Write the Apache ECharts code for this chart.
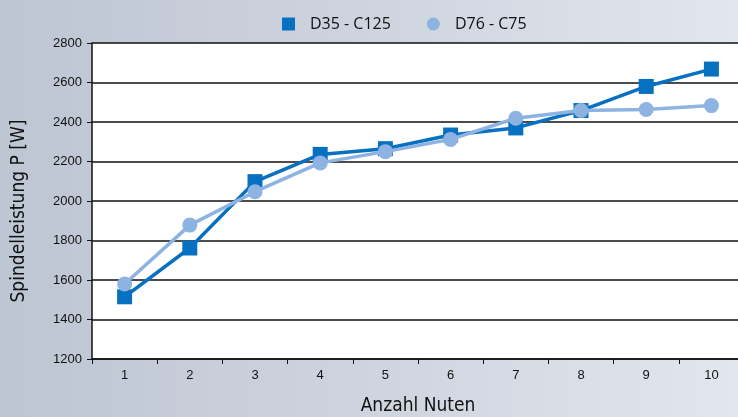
<!DOCTYPE html>
<html>
<head>
<meta charset="utf-8">
<script src="https://cdn.jsdelivr.net/npm/echarts@6/dist/echarts.min.js"></script>
<style>
  html, body { margin: 0; padding: 0; }
  #main { width: 738px; height: 417px; background: linear-gradient(90deg, #bec5d3 0%, #d0d6e0 55%, #e2e6ee 100%); }
</style>
</head>
<body>
<div id="main"></div>
<script>
let categories = ['1', '2', '3', '4', '5', '6', '7', '8', '9', '10'];
let seriesNames = ['D35 - C125', 'D76 - C75'];
let d35Values = [1515, 1762, 2098, 2236, 2265, 2334, 2370, 2458, 2580, 2668];
let d76Values = [1580, 1878, 2047, 2193, 2250, 2312, 2419, 2458, 2463, 2483];
let colors = ['#0870c0', '#8db3e2'];

const nameFont = { fontFamily: 'DejaVu Sans Condensed, sans-serif', fontWeight: 'normal', fontSize: 19, color: '#111' };

const option = {
    animation: false,
    color: colors,
    legend: {
        top: 11,
        left: 277,
        itemGap: 36,
        itemWidth: 13,
        itemHeight: 13,
        textStyle: { fontFamily: 'Open Sans', fontSize: 16, color: '#111', padding: [0, 0, 0, 10] },
        data: [
            { name: seriesNames[0], icon: 'rect' },
            { name: seriesNames[1], icon: 'circle' }
        ]
    },
    grid: {
        left: 92, top: 43, width: 652, height: 316,
        outerBoundsMode: 'none',
        show: true, backgroundColor: '#fff', borderWidth: 0
    },
    xAxis: {
        type: 'category',
        data: categories,
        boundaryGap: true,
        name: 'Anzahl Nuten',
        nameLocation: 'middle',
        nameGap: 38,
        nameTextStyle: nameFont,
        axisLine: { lineStyle: { color: '#111', width: 1.5 } },
        axisTick: { show: true, alignWithLabel: false, length: 5, lineStyle: { color: '#111' } },
        axisLabel: { fontFamily: 'Liberation Sans', fontSize: 13, color: '#111', margin: 10 }
    },
    yAxis: {
        type: 'value',
        min: 1200,
        max: 2800,
        interval: 200,
        name: 'Spindelleistung P [W]',
        nameLocation: 'middle',
        nameGap: 63,
        nameTextStyle: Object.assign({}, nameFont, { padding: [0, 20, 0, 0] }),
        axisLine: { show: true, lineStyle: { color: '#111', width: 1.5 } },
        axisTick: { show: true, length: 5, lineStyle: { color: '#111' } },
        axisLabel: { fontFamily: 'Liberation Sans', fontSize: 13, color: '#111', margin: 10, formatter: v => String(v) },
        splitLine: { lineStyle: { color: '#111', width: 1.5 } }
    },
    series: [
        {
            name: seriesNames[0],
            type: 'line',
            data: d35Values,
            symbol: 'rect',
            symbolSize: 15,
            lineStyle: { width: 3.5, color: colors[0] },
            itemStyle: { color: colors[0] },
            z: 3
        },
        {
            name: seriesNames[1],
            type: 'line',
            data: d76Values,
            symbol: 'circle',
            symbolSize: 15,
            lineStyle: { width: 3.5, color: colors[1] },
            itemStyle: { color: colors[1] },
            z: 4
        }
    ]
};

let plot = echarts.init(document.querySelector('#main'));
plot.setOption(option);
</script>
</body>
</html>
